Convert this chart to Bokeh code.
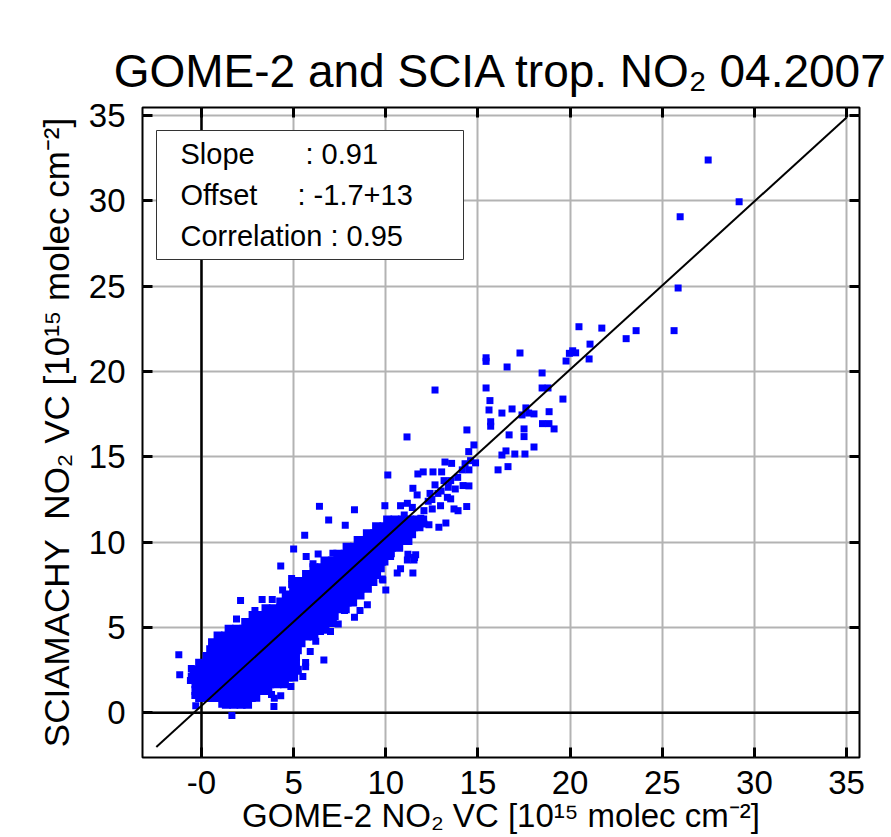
from bokeh.plotting import figure
from bokeh.models import (Range1d, FixedTicker, LinearAxis, Span, BoxAnnotation,
                          Label, CustomJSTickFormatter)
from bokeh.embed import file_html
from bokeh.resources import INLINE

FONT = "Liberation Sans"

# ---------------- data ----------------
tick_values = [0, 5, 10, 15, 20, 25, 30, 35]
x_tick_labels = ["-0", "5", "10", "15", "20", "25", "30", "35"]
y_tick_labels = ["0", "5", "10", "15", "20", "25", "30", "35"]

# dense core of the cloud, row by row (y of the row, x positions in the row)
core_rows_y = [0.5, 0.9, 1.3, 1.7, 2.1, 2.5, 2.9, 3.3, 3.7, 4.1, 4.5, 4.9, 5.3, 5.7,
               6.1, 6.5, 6.9, 7.3, 7.7, 8.1, 8.5, 8.9, 9.3, 9.7, 10.1, 10.5, 10.9, 11.3]
core_rows_x = [
    [1.35, 1.75, 2.15, 2.5],
    [-0.1, 0.3, 0.7, 1.1, 1.5, 1.9, 2.3, 2.7],
    [-0.3, 0.1, 0.5, 0.9, 1.3, 1.7, 2.1, 2.5, 2.9, 3.3, 3.6],
    [-0.3, 0.1, 0.5, 0.9, 1.3, 1.7, 2.1, 2.5, 2.9, 3.3, 3.7, 4.1, 4.5],
    [-0.5, -0.1, 0.3, 0.7, 1.1, 1.5, 1.9, 2.3, 2.7, 3.1, 3.5, 3.9, 4.3, 4.7, 5.0],
    [-0.4, 0.0, 0.4, 0.8, 1.2, 1.6, 2.0, 2.4, 2.8, 3.2, 3.6, 4.0, 4.4, 4.8, 5.2],
    [-0.1, 0.3, 0.7, 1.1, 1.5, 1.9, 2.3, 2.7, 3.1, 3.5, 3.9, 4.3, 4.7, 5.1],
    [0.3, 0.7, 1.1, 1.5, 1.9, 2.3, 2.7, 3.1, 3.5, 3.9, 4.3, 4.7, 5.1],
    [0.5, 0.9, 1.3, 1.7, 2.1, 2.5, 2.9, 3.3, 3.7, 4.1, 4.5, 4.9, 5.2],
    [0.6, 1.0, 1.4, 1.8, 2.2, 2.6, 3.0, 3.4, 3.8, 4.2, 4.6, 5.0, 5.4],
    [0.9, 1.3, 1.7, 2.1, 2.5, 2.9, 3.3, 3.7, 4.1, 4.5, 4.9, 5.3, 5.7, 6.1],
    [1.5, 1.9, 2.3, 2.7, 3.1, 3.5, 3.9, 4.3, 4.7, 5.1, 5.5, 5.9, 6.3, 6.7],
    [2.4, 2.8, 3.2, 3.6, 4.0, 4.4, 4.8, 5.2, 5.6, 6.0, 6.4, 6.8, 7.1],
    [2.8, 3.2, 3.6, 4.0, 4.4, 4.8, 5.2, 5.6, 6.0, 6.4, 6.8, 7.2],
    [3.5, 3.9, 4.3, 4.7, 5.1, 5.5, 5.9, 6.3, 6.7, 7.1, 7.5, 7.8],
    [4.3, 4.7, 5.1, 5.5, 5.9, 6.3, 6.7, 7.1, 7.5, 7.9, 8.2],
    [4.6, 5.0, 5.4, 5.8, 6.2, 6.6, 7.0, 7.4, 7.8, 8.2, 8.6],
    [5.0, 5.4, 5.8, 6.2, 6.6, 7.0, 7.4, 7.8, 8.2, 8.6, 9.0],
    [5.3, 5.7, 6.1, 6.5, 6.9, 7.3, 7.7, 8.1, 8.5, 8.9, 9.3],
    [5.7, 6.1, 6.5, 6.9, 7.3, 7.7, 8.1, 8.5, 8.9, 9.3, 9.5],
    [6.1, 6.5, 6.9, 7.3, 7.7, 8.1, 8.5, 8.9, 9.3, 9.7],
    [6.7, 7.1, 7.5, 7.9, 8.3, 8.7, 9.1, 9.5, 9.9],
    [7.4, 7.8, 8.2, 8.6, 9.0, 9.4, 9.8, 10.2],
    [7.9, 8.3, 8.7, 9.1, 9.5, 9.9, 10.3, 10.7],
    [8.5, 8.9, 9.3, 9.7, 10.1, 10.5, 10.9, 11.2],
    [9.0, 9.4, 9.8, 10.2, 10.6, 11.0, 11.4],
    [9.5, 9.9, 10.3, 10.7, 11.1, 11.5, 11.8],
    [10.1, 10.5, 10.9, 11.3, 11.7, 12.0],
]

# individual points around / beyond the core  (GOME-2 x, SCIAMACHY y)
scatter_x = [
    -1.23, -1.18, -0.36, -0.31, -0.6, -0.55, 1.65, 1.1, 3.0, 3.93, 3.8, 3.95, 4.85, 5.5,
    5.65, 5.65, 4.3, 6.64, 5.9, 6.2, 7.42, 7.0, 6.46, 2.12, 3.29, 3.84, 2.9, 1.9, 4.89,
    4.89, 4.4, 5.68, 6.05, 6.33, 7.13, 9.0, 8.6, 7.76, 9.84, 10.62, 11.47, 10.8, 11.56,
    11.2, 10.26, 10.3, 9.7, 9.81, 11.17, 11.62, 11.53, 9.81, 8.3, 10.0,
    6.4, 6.9, 7.8, 5.6, 8.3, 5.0, 4.3,
    9.95, 10.8, 11.17, 11.44, 12.07, 12.52, 12.97, 13.34, 13.52, 13.7, 13.92, 14.39,
    12.07, 12.34, 12.88, 13.26, 11.47, 11.7, 12.4, 12.83, 13.39, 13.77, 14.19, 14.51,
    12.67, 13.16, 13.52, 11.74, 12.03, 12.56, 13.03, 14.15, 14.51, 13.21, 13.57, 14.6,
    14.87, 10.11, 14.78, 14.5, 14.4, 11.15, 12.3, 11.0, 11.9, 12.5, 13.0, 13.9, 14.3,
    16.09, 16.63, 16.52, 16.3, 17.0, 17.55, 18.04, 16.69, 17.5, 17.5, 15.69, 15.69,
    18.5, 18.85, 19.13, 15.6, 16.3, 16.85, 17.6, 17.39, 17.75, 18.04, 18.86, 15.65,
    19.61, 18.48, 18.8, 15.44, 12.67, 18.48, 16.58, 15.44, 15.44, 17.28, 19.78, 21.03,
    20.14, 19.96, 20.3, 21.08, 20.48, 21.72, 23.04, 23.58, 25.64, 25.86, 25.97, 27.49,
    29.17,
]
scatter_y = [
    3.40, 2.23, 1.01, 0.41, 1.9, 2.6, -0.16, 0.5, 0.85, 0.37, 1.07, 0.85, 1.54, 2.13,
    2.7, 2.95, 1.0, 3.1, 3.6, 4.2, 5.21, 4.76, 4.76, 6.58, 6.64, 6.64, 6.0, 5.5, 7.87,
    7.5, 7.2, 9.16, 8.73, 9.31, 9.35, 6.34, 6.0, 5.99, 7.79, 8.2, 8.2, 8.45, 9.1,
    9.3, 9.16, 9.33, 8.75, 8.82, 8.96, 9.26, 8.96, 7.85, 5.6, 7.2,
    12.1, 11.3, 11.0, 10.4, 11.9, 9.6, 8.6,
    12.14, 12.14, 12.28, 12.04, 11.85, 11.95, 12.14, 12.63, 12.54, 11.95, 11.85, 12.09,
    11.07, 11.03, 10.87, 11.13, 13.16, 12.77, 12.86, 12.86, 13.22, 13.12, 13.32, 13.3,
    13.36, 13.61, 13.61, 14.0, 14.12, 14.12, 14.12, 14.24, 14.24, 14.7, 14.62, 14.78,
    14.65, 13.94, 15.7, 15.31, 16.58, 16.17, 12.4, 11.6, 11.4, 12.5, 13.0, 13.8, 14.6,
    14.24, 14.43, 15.35, 15.11, 15.17, 15.17, 15.58, 16.29, 16.64, 16.19, 17.06, 16.8,
    16.95, 16.95, 16.64, 17.75, 17.57, 17.81, 17.87, 17.46, 17.57, 17.52, 17.65, 18.3,
    18.39, 19.04, 19.04, 19.04, 18.92, 19.92, 20.27, 20.81, 20.6, 21.09, 20.62, 20.74,
    21.22, 21.07, 21.1, 21.61, 22.63, 22.55, 21.93, 22.4, 22.4, 24.9, 29.07, 32.4,
    29.95,
]

# reference diagonal drawn in the chart
diag_x = [-2.45, 35.0]
diag_y = [-2.0, 34.9]

stats_names = ["Slope", "Offset", "Correlation : 0.95"]
stats_values = [": 0.91", ": -1.7+13", ""]

title_text = "GOME-2 and SCIA trop. NO\u2082 04.2007"
x_label_text = "GOME-2 NO\u2082 VC [10\u00b9\u2075 molec cm\u207b\u00b2]"
y_label_text = "SCIAMACHY\u00a0 NO\u2082 VC [10\u00b9\u2075 molec cm\u207b\u00b2]"

# ---------------- build ----------------
core_x = [x for row in core_rows_x for x in row]
core_y = [y for y, row in zip(core_rows_y, core_rows_x) for _ in row]

p = figure(width=891, height=837, output_backend="svg", toolbar_location=None,
           x_range=Range1d(-3.2, 35.7), y_range=Range1d(-2.62, 35.48),
           min_border_left=142, min_border_right=32, min_border_top=107,
           min_border_bottom=80, x_axis_location=None, y_axis_location=None)
p.background_fill_color = "white"
p.border_fill_color = "white"
p.outline_line_color = "black"
p.outline_line_width = 2

p.title.text = title_text
p.title.align = "center"
p.title.text_font = FONT
p.title.text_font_size = "46px"
p.title.text_font_style = "normal"
p.title.text_color = "black"
p.title.standoff = 21

ticker = FixedTicker(ticks=tick_values)


def style_axis(ax, show_labels):
    ax.ticker = ticker
    ax.axis_line_color = None
    ax.major_tick_in = 10
    ax.major_tick_out = 0
    ax.major_tick_line_width = 3
    ax.major_tick_line_color = "black"
    ax.minor_tick_line_color = None
    if show_labels:
        ax.major_label_text_font = FONT
        ax.major_label_text_font_size = "33px"
        ax.major_label_text_color = "black"
    else:
        ax.formatter = CustomJSTickFormatter(code="return ''")
        ax.major_label_text_font_size = "0px"
        ax.major_label_standoff = 0


xb = LinearAxis()
style_axis(xb, True)
xb.major_label_overrides = {t: s for t, s in zip(tick_values, x_tick_labels)}
xb.major_label_standoff = 13
xb.axis_label = x_label_text
xb.axis_label_text_font = FONT
xb.axis_label_text_font_size = "33px"
xb.axis_label_text_font_style = "normal"
xb.axis_label_text_color = "black"
xb.axis_label_standoff = 0
p.add_layout(xb, "below")

yl = LinearAxis()
style_axis(yl, True)
yl.major_label_overrides = {t: s for t, s in zip(tick_values, y_tick_labels)}
yl.major_label_standoff = 17
yl.axis_label = y_label_text
yl.axis_label_text_font = FONT
yl.axis_label_text_font_size = "35px"
yl.axis_label_text_font_style = "normal"
yl.axis_label_text_color = "black"
yl.axis_label_standoff = 10
p.add_layout(yl, "left")

xt = LinearAxis()
style_axis(xt, False)
p.add_layout(xt, "above")
yr = LinearAxis()
style_axis(yr, False)
p.add_layout(yr, "right")

p.xgrid.ticker = ticker
p.ygrid.ticker = ticker
for g in (p.xgrid, p.ygrid):
    g.grid_line_color = "#b3b3b3"
    g.grid_line_width = 2

p.add_layout(Span(location=0, dimension="height", line_color="black",
                  line_width=2.5, level="underlay"))
p.add_layout(Span(location=0, dimension="width", line_color="black",
                  line_width=2.5, level="underlay"))

p.scatter(core_x, core_y, marker="square", size=9, fill_color="#0000ff",
          line_color=None)
p.scatter(scatter_x, scatter_y, marker="square", size=7, fill_color="#0000ff",
          line_color=None)
p.line(diag_x, diag_y, line_color="black", line_width=2)

# stats box (screen offsets from the frame's lower-left corner)
p.add_layout(BoxAnnotation(left=14, right=321, top=627, bottom=498,
                           left_units="screen", right_units="screen",
                           top_units="screen", bottom_units="screen",
                           fill_color="white", fill_alpha=1.0,
                           line_color="#333333", line_width=1, line_alpha=1.0))
row_y = [604, 563, 522]
val_x = [163, 155]
for i, name in enumerate(stats_names):
    p.add_layout(Label(x=38, y=row_y[i], x_units="screen", y_units="screen",
                       text=name, text_font=FONT, text_font_size="29px",
                       text_baseline="alphabetic", text_color="black"))
    if stats_values[i]:
        p.add_layout(Label(x=val_x[i], y=row_y[i], x_units="screen", y_units="screen",
                           text=stats_values[i], text_font=FONT, text_font_size="29px",
                           text_baseline="alphabetic", text_color="black"))

open("out.html", "w").write(file_html(p, INLINE))
